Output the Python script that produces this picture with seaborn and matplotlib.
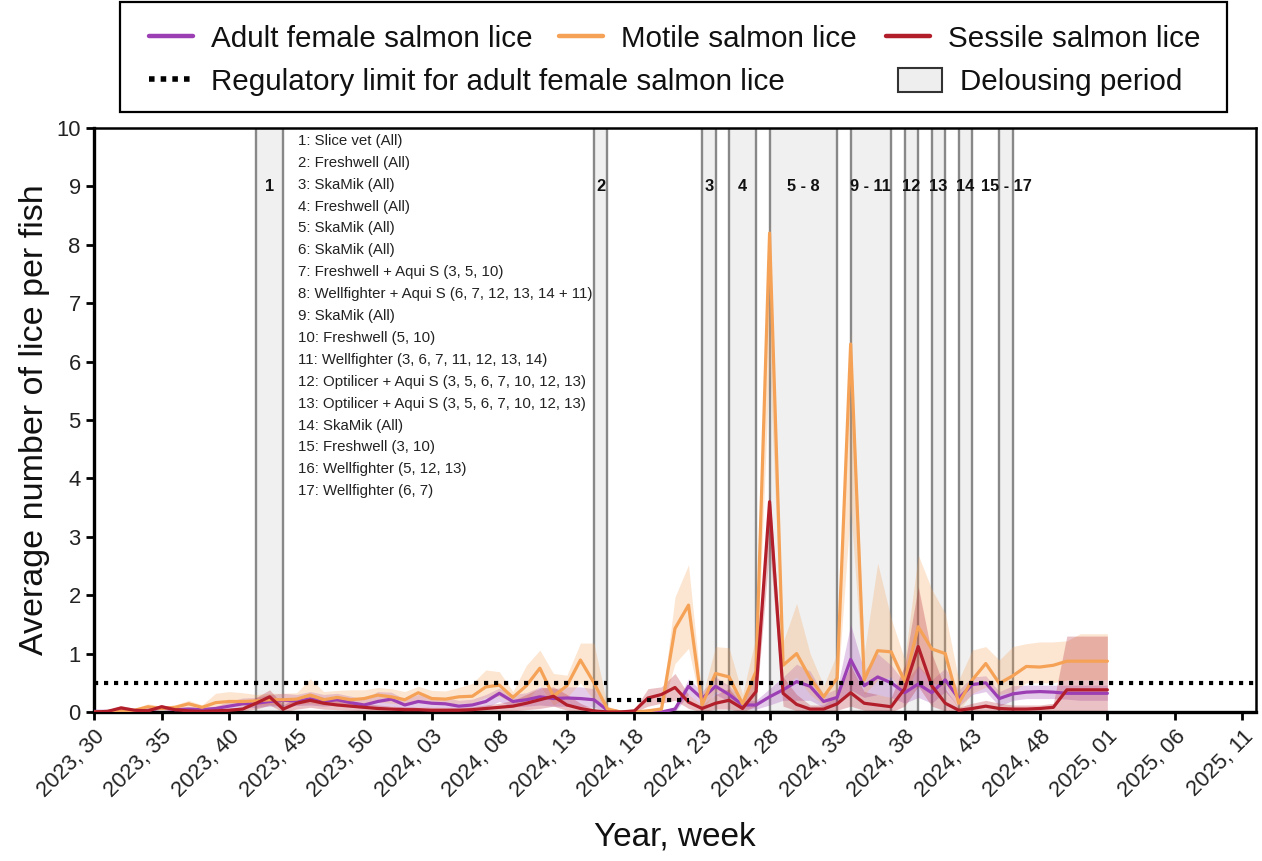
import numpy as np
import pandas as pd
import matplotlib
matplotlib.use("Agg")
import matplotlib.pyplot as plt
import matplotlib.patches as mpatches
from matplotlib.lines import Line2D
import seaborn as sns

# ---------------- data ----------------
weeks = list(range(76))  # week index: 0 = 2023 w30 ... 75 = 2025 w01

adult_mean = [0.01, 0.01, 0.02, 0.02, 0.03, 0.08, 0.04, 0.05, 0.04, 0.06,
              0.10, 0.14, 0.15, 0.18, 0.20, 0.19, 0.22, 0.18, 0.21, 0.16,
              0.12, 0.18, 0.22, 0.12, 0.18, 0.15, 0.14, 0.10, 0.12, 0.18,
              0.32, 0.18, 0.21, 0.26, 0.23, 0.24, 0.23, 0.21, 0.03, 0.00,
              0.00, 0.00, 0.00, 0.05, 0.44, 0.23, 0.44, 0.30, 0.12, 0.12,
              0.26, 0.38, 0.52, 0.44, 0.18, 0.25, 0.90, 0.45, 0.60, 0.50,
              0.33, 0.48, 0.33, 0.55, 0.23, 0.47, 0.50, 0.23, 0.31, 0.34,
              0.35, 0.34, 0.32, 0.32, 0.32, 0.32]
adult_low = [0.00, 0.00, 0.00, 0.00, 0.01, 0.04, 0.01, 0.02, 0.01, 0.03,
             0.04, 0.07, 0.08, 0.10, 0.11, 0.11, 0.12, 0.10, 0.12, 0.09,
             0.06, 0.08, 0.10, 0.06, 0.09, 0.07, 0.07, 0.05, 0.06, 0.08,
             0.18, 0.09, 0.10, 0.12, 0.10, 0.10, 0.09, 0.08, 0.00, 0.00,
             0.00, 0.00, 0.00, 0.00, 0.30, 0.12, 0.30, 0.18, 0.05, 0.05,
             0.12, 0.20, 0.20, 0.20, 0.08, 0.12, 0.38, 0.25, 0.30, 0.25,
             0.15, 0.25, 0.15, 0.35, 0.10, 0.30, 0.35, 0.10, 0.20, 0.23,
             0.23, 0.23, 0.22, 0.20, 0.20, 0.20]
adult_high = [0.03, 0.03, 0.05, 0.05, 0.06, 0.12, 0.07, 0.09, 0.08, 0.10,
              0.18, 0.24, 0.25, 0.30, 0.32, 0.30, 0.35, 0.30, 0.32, 0.27,
              0.22, 0.35, 0.34, 0.22, 0.30, 0.26, 0.25, 0.20, 0.22, 0.30,
              0.41, 0.30, 0.33, 0.43, 0.40, 0.43, 0.43, 0.40, 0.08, 0.00,
              0.00, 0.00, 0.00, 0.10, 0.57, 0.35, 0.60, 0.45, 0.20, 0.20,
              0.40, 0.60, 0.82, 0.70, 0.30, 0.40, 1.50, 0.70, 1.00, 0.80,
              0.50, 0.80, 0.55, 0.75, 0.38, 0.60, 0.62, 0.35, 0.45, 0.46,
              0.46, 0.46, 0.46, 0.46, 0.46, 0.46]

motile_mean = [0.00, 0.01, 0.02, 0.03, 0.09, 0.06, 0.08, 0.14, 0.08, 0.16,
               0.18, 0.18, 0.19, 0.21, 0.21, 0.22, 0.29, 0.21, 0.25, 0.21,
               0.23, 0.29, 0.26, 0.21, 0.33, 0.23, 0.22, 0.26, 0.27, 0.43,
               0.46, 0.25, 0.45, 0.75, 0.27, 0.45, 0.89, 0.50, 0.05, 0.00,
               0.00, 0.02, 0.05, 1.43, 1.83, 0.12, 0.66, 0.60, 0.14, 0.70,
               8.20, 0.80, 1.00, 0.58, 0.26, 0.58, 6.30, 0.55, 1.05, 1.03,
               0.52, 1.46, 1.08, 1.00, 0.15, 0.55, 0.83, 0.49, 0.62, 0.78,
               0.77, 0.80, 0.87, 0.87, 0.87, 0.87]
motile_low = [0.00, 0.00, 0.00, 0.00, 0.05, 0.03, 0.04, 0.08, 0.04, 0.08,
              0.10, 0.10, 0.12, 0.13, 0.13, 0.13, 0.15, 0.12, 0.14, 0.12,
              0.13, 0.17, 0.15, 0.12, 0.20, 0.14, 0.13, 0.15, 0.15, 0.25,
              0.27, 0.15, 0.20, 0.45, 0.12, 0.25, 0.50, 0.20, 0.00, 0.00,
              0.00, 0.00, 0.02, 0.83, 1.09, 0.03, 0.35, 0.30, 0.05, 0.35,
              6.00, 0.45, 0.60, 0.30, 0.12, 0.30, 3.50, 0.30, 0.55, 0.60,
              0.30, 0.78, 0.50, 0.45, 0.03, 0.32, 0.43, 0.30, 0.35, 0.50,
              0.50, 0.50, 0.55, 0.55, 0.55, 0.55]
motile_high = [0.02, 0.03, 0.05, 0.06, 0.14, 0.10, 0.12, 0.20, 0.12, 0.32,
               0.35, 0.33, 0.30, 0.32, 0.32, 0.33, 0.57, 0.35, 0.37, 0.38,
               0.38, 0.42, 0.40, 0.35, 0.44, 0.37, 0.36, 0.42, 0.49, 0.72,
               0.69, 0.35, 0.80, 1.06, 0.66, 0.63, 1.18, 1.18, 0.10, 0.02,
               0.02, 0.05, 0.10, 1.97, 2.52, 0.25, 1.12, 1.10, 0.30, 1.30,
               8.40, 1.20, 1.86, 1.00, 0.45, 1.00, 6.50, 1.00, 2.55, 1.60,
               0.90, 2.69, 2.10, 1.69, 0.55, 1.06, 1.12, 0.89, 1.12, 1.17,
               1.20, 1.20, 1.22, 1.34, 1.34, 1.34]

sessile_mean = [0.00, 0.01, 0.07, 0.03, 0.02, 0.09, 0.04, 0.02, 0.01, 0.02,
                0.03, 0.05, 0.15, 0.26, 0.05, 0.15, 0.20, 0.15, 0.12, 0.10,
                0.08, 0.06, 0.05, 0.04, 0.04, 0.03, 0.03, 0.03, 0.04, 0.06,
                0.08, 0.10, 0.15, 0.21, 0.27, 0.12, 0.06, 0.02, 0.00, 0.00,
                0.02, 0.24, 0.30, 0.42, 0.17, 0.06, 0.15, 0.20, 0.06, 0.35,
                3.60, 0.32, 0.13, 0.05, 0.05, 0.14, 0.33, 0.15, 0.12, 0.09,
                0.40, 1.12, 0.45, 0.15, 0.03, 0.06, 0.10, 0.06, 0.05, 0.05,
                0.06, 0.08, 0.38, 0.38, 0.38, 0.38]
sessile_low = [0.00, 0.00, 0.03, 0.00, 0.00, 0.05, 0.01, 0.00, 0.00, 0.00,
               0.00, 0.02, 0.05, 0.12, 0.00, 0.05, 0.08, 0.05, 0.04, 0.03,
               0.02, 0.01, 0.00, 0.00, 0.00, 0.00, 0.00, 0.00, 0.00, 0.01,
               0.02, 0.02, 0.04, 0.06, 0.10, 0.03, 0.00, 0.00, 0.00, 0.00,
               0.00, 0.10, 0.15, 0.20, 0.06, 0.00, 0.05, 0.05, 0.00, 0.10,
               2.80, 0.10, 0.02, 0.00, 0.00, 0.03, 0.10, 0.03, 0.02, 0.00,
               0.10, 0.44, 0.10, 0.02, 0.00, 0.00, 0.02, 0.00, 0.00, 0.00,
               0.00, 0.00, 0.00, 0.00, 0.00, 0.00]
sessile_high = [0.02, 0.03, 0.11, 0.06, 0.05, 0.13, 0.07, 0.05, 0.03, 0.05,
                0.06, 0.09, 0.25, 0.38, 0.12, 0.25, 0.32, 0.25, 0.20, 0.18,
                0.15, 0.12, 0.10, 0.09, 0.09, 0.08, 0.08, 0.08, 0.09, 0.12,
                0.15, 0.20, 0.30, 0.41, 0.43, 0.30, 0.15, 0.05, 0.00, 0.00,
                0.05, 0.40, 0.43, 0.66, 0.30, 0.12, 0.30, 0.40, 0.12, 0.70,
                3.80, 0.60, 0.30, 0.12, 0.12, 0.30, 0.80, 0.35, 0.30, 0.25,
                0.80, 2.15, 1.00, 0.40, 0.08, 0.15, 0.20, 0.15, 0.12, 0.12,
                0.12, 0.15, 1.30, 1.30, 1.30, 1.30]

# regulatory limit segments (week index start, end, limit)
reg_start = [0, 38, 44]
reg_end = [38, 44, 86]
reg_value = [0.5, 0.2, 0.5]

# delousing periods (week index start/end) and labels
period_start = [12, 37, 45, 47, 50, 56, 60, 62, 64, 67]
period_end = [14, 38, 46, 49, 55, 59, 61, 63, 65, 68]
period_label = ["1", "2", "3", "4", "5 - 8", "9 - 11", "12", "13", "14", "15 - 17"]

treatments = [
    "1: Slice vet (All)",
    "2: Freshwell (All)",
    "3: SkaMik (All)",
    "4: Freshwell (All)",
    "5: SkaMik (All)",
    "6: SkaMik (All)",
    "7: Freshwell + Aqui S (3, 5, 10)",
    "8: Wellfighter + Aqui S (6, 7, 12, 13, 14 + 11)",
    "9: SkaMik (All)",
    "10: Freshwell (5, 10)",
    "11: Wellfighter (3, 6, 7, 11, 12, 13, 14)",
    "12: Optilicer + Aqui S (3, 5, 6, 7, 10, 12, 13)",
    "13: Optilicer + Aqui S (3, 5, 6, 7, 10, 12, 13)",
    "14: SkaMik (All)",
    "15: Freshwell (3, 10)",
    "16: Wellfighter (5, 12, 13)",
    "17: Wellfighter (6, 7)",
]

tick_labels = ["2023, 30", "2023, 35", "2023, 40", "2023, 45", "2023, 50",
               "2024, 03", "2024, 08", "2024, 13", "2024, 18", "2024, 23",
               "2024, 28", "2024, 33", "2024, 38", "2024, 43", "2024, 48",
               "2025, 01", "2025, 06", "2025, 11"]

series_names = ["Adult female salmon lice", "Motile salmon lice", "Sessile salmon lice"]
colors = {"Adult female salmon lice": "#9c3fb4",
          "Motile salmon lice": "#f5a257",
          "Sessile salmon lice": "#b21f2b"}

# ---------------- style ----------------
sns.set_style("ticks")
plt.rcParams["font.family"] = ["Liberation Sans", "DejaVu Sans"]

W, H = 1262, 861
fig = plt.figure(figsize=(W / 100, H / 100), dpi=100)
ax = fig.add_axes([94 / W, 1 - 712 / H, (1256 - 94) / W, (712 - 128) / H])

# delousing periods
for s, e, lab in zip(period_start, period_end, period_label):
    ax.axvspan(s, e, facecolor="#f0f0f0", edgecolor="#888888", linewidth=1.7, zorder=0.5)
    ax.text((s + e) / 2, 9.0, lab, ha="center", va="center", fontsize=11.8,
            fontweight="bold", color="#111111", zorder=5)

# regulatory limit
for s, e, v in zip(reg_start, reg_end, reg_value):
    ax.hlines(v, s, e, colors="black", linewidth=3.0,
              linestyles=[(0, (1.0, 1.4))], zorder=4)

# bands
bands = {"Adult female salmon lice": (adult_low, adult_high),
         "Motile salmon lice": (motile_low, motile_high),
         "Sessile salmon lice": (sessile_low, sessile_high)}
for name in series_names:
    lo, hi = bands[name]
    ax.fill_between(weeks, lo, hi, color=colors[name], alpha=0.27, linewidth=0, zorder=1)

df = pd.concat([
    pd.DataFrame({"week": weeks, "value": adult_mean, "stage": series_names[0]}),
    pd.DataFrame({"week": weeks, "value": motile_mean, "stage": series_names[1]}),
    pd.DataFrame({"week": weeks, "value": sessile_mean, "stage": series_names[2]}),
], ignore_index=True)
sns.lineplot(data=df, x="week", y="value", hue="stage", hue_order=series_names,
             palette=colors, linewidth=2.3, legend=False, ax=ax, zorder=3)

# treatment list
for i, t in enumerate(treatments):
    ax.text(15.1, 9.78 - i * 0.375, t, ha="left", va="center", fontsize=10.8,
            color="#222222", zorder=5)

# axes
ax.set_xlim(0, 86)
ax.set_ylim(0, 10)
ax.set_yticks(range(0, 11))
ax.set_xticks(np.arange(len(tick_labels)) * 5)
ax.set_xticklabels(tick_labels, rotation=45, ha="right", va="top",
                   rotation_mode="anchor")
ax.tick_params(axis="both", direction="out", length=6, width=2, colors="black",
               labelsize=15.8, labelcolor="#222222")
ax.tick_params(axis="x", pad=4)
for side in ["left", "bottom"]:
    ax.spines[side].set_linewidth(2.4)
for side in ["top", "right"]:
    ax.spines[side].set_linewidth(1.8)
for sp in ax.spines.values():
    sp.set_color("black")
ax.set_xlabel("Year, week", fontsize=24, color="#111111")
ax.set_ylabel("Average number of lice per fish", fontsize=24.5, color="#111111")
ax.yaxis.set_label_coords(-0.038, 0.5)
ax.xaxis.set_label_coords(0.5, -0.187)

# legend (individually placed entries inside one frame)
lfs = 21.3
entries = [
    (Line2D([], [], color=colors[series_names[0]], lw=3.2), series_names[0], 149, 39),
    (Line2D([], [], color=colors[series_names[1]], lw=3.2), series_names[1], 559, 39),
    (Line2D([], [], color=colors[series_names[2]], lw=3.2), series_names[2], 886, 39),
    (Line2D([], [], color="black", lw=4, linestyle=(0, (1.0, 1.1))),
     "Regulatory limit for adult female salmon lice", 149, 82),
    (mpatches.Patch(facecolor="#eeeeee", edgecolor="#333333", linewidth=1.5),
     "Delousing period", 898, 82),
]
for h, lab, xp, yp in entries:
    leg = fig.legend([h], [lab], loc="center left", bbox_to_anchor=(xp / W, 1 - yp / H),
                     frameon=False, borderpad=0, borderaxespad=0, handlelength=1.5,
                     handletextpad=0.6, fontsize=lfs, handleheight=0.9)
    for txt in leg.get_texts():
        txt.set_color("#111111")

frame = mpatches.Rectangle((120 / W, 1 - 112 / H), (1227 - 120) / W, (112 - 2) / H,
                           transform=fig.transFigure, fill=False, edgecolor="black",
                           linewidth=1.6)
fig.add_artist(frame)

fig.savefig("out.png", dpi=100)
